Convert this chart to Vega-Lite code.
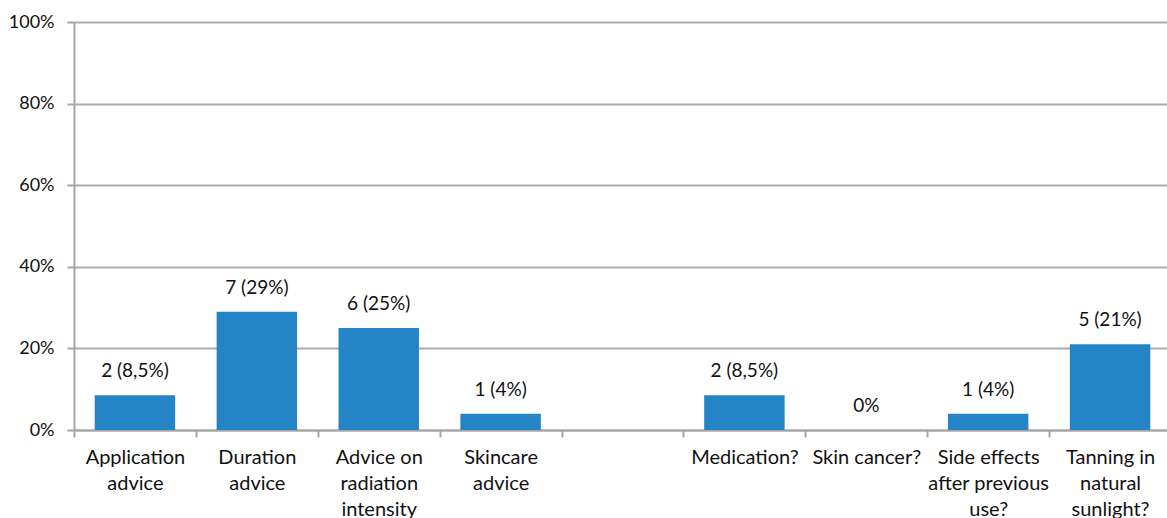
{
  "$schema": "https://vega.github.io/schema/vega-lite/v6.json",
  "width": 1097,
  "height": 408,
  "autosize": {"type": "none"},
  "padding": {"left": 74, "top": 22, "right": 0, "bottom": 88},
  "background": "white",
  "config": {
    "view": {"stroke": null},
    "font": "Lato",
    "axis": {
      "labelFont": "Lato",
      "labelColor": "#111111",
      "domainColor": "#A6A6A6",
      "domainWidth": 2,
      "tickColor": "#A6A6A6",
      "tickWidth": 2,
      "gridColor": "#ABABAB",
      "gridWidth": 2,
      "title": null
    }
  },
  "data": {
    "values": [
      {"item": "Application|advice", "share": 0.085, "label": "2 (8,5%)"},
      {"item": "Duration|advice", "share": 0.29, "label": "7 (29%)"},
      {"item": "Advice on|radiation|intensity", "share": 0.25, "label": "6 (25%)"},
      {"item": "Skincare|advice", "share": 0.04, "label": "1 (4%)"},
      {"item": "Medication?", "share": 0.085, "label": "2 (8,5%)"},
      {"item": "Skin cancer?", "share": 0, "label": "0%"},
      {"item": "Side effects|after previous|use?", "share": 0.04, "label": "1 (4%)"},
      {"item": "Tanning in|natural|sunlight?", "share": 0.21, "label": "5 (21%)"}
    ]
  },
  "encoding": {
    "x": {
      "field": "item",
      "type": "nominal",
      "scale": {
        "domain": [
          "Application|advice",
          "Duration|advice",
          "Advice on|radiation|intensity",
          "Skincare|advice",
          " ",
          "Medication?",
          "Skin cancer?",
          "Side effects|after previous|use?",
          "Tanning in|natural|sunlight?"
        ],
        "paddingInner": 0,
        "paddingOuter": 0
      },
      "axis": {
        "labelAngle": 0,
        "labelExpr": "isString(datum.value) ? split(datum.value, '|') : ''",
        "labelFontSize": 20,
        "labelLineHeight": 26,
        "labelPadding": 10,
        "tickBand": "extent",
        "tickSize": 7,
        "labelLimit": 0
      }
    },
    "y": {
      "field": "share",
      "type": "quantitative",
      "scale": {"domain": [0, 1]},
      "axis": {
        "values": [0, 0.2, 0.4, 0.6, 0.8, 1],
        "format": ".0%",
        "labelFontSize": 18,
        "labelPadding": 13,
        "tickSize": 7,
        "grid": true
      }
    }
  },
  "layer": [
    {
      "mark": {"type": "bar", "color": "#2484C6", "width": {"band": 0.66}}
    },
    {
      "mark": {
        "type": "text",
        "baseline": "bottom",
        "dy": -14,
        "fontSize": 19,
        "color": "#111111"
      },
      "encoding": {"text": {"field": "label"}}
    }
  ]
}
